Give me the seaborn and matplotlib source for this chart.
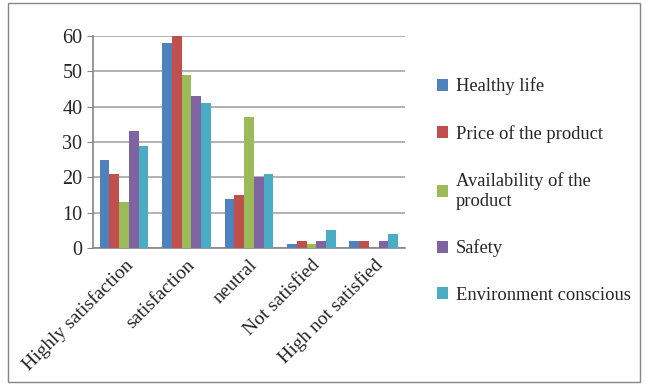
import pandas as pd
import seaborn as sns
import matplotlib.pyplot as plt
from matplotlib.patches import Rectangle

# Chart values
categories = ['Highly satisfaction', 'satisfaction', 'neutral', 'Not satisfied', 'High not satisfied']
healthy = [25, 58, 14, 1, 2]
price = [21, 60, 15, 2, 2]
availability = [13, 49, 37, 1, 0]
safety = [33, 43, 20, 2, 2]
environment = [29, 41, 21, 5, 4]
series_names = ['Healthy life', 'Price of the product', 'Availability of the\nproduct', 'Safety', 'Environment conscious']
colors = ['#4F81BD', '#C0504D', '#9BBB59', '#8064A2', '#4BACC6']

# Build long-form table for seaborn
rows = []
for name, vals in zip(series_names, [healthy, price, availability, safety, environment]):
    for cat, v in zip(categories, vals):
        rows.append({'category': cat, 'series': name, 'value': v})
df = pd.DataFrame(rows)

sns.set_style('white')
plt.rcParams['font.family'] = ['Liberation Serif', 'DejaVu Serif']

fig = plt.figure(figsize=(6.45, 3.85), dpi=100)
ax = fig.add_axes([0.144, 0.356, 0.484, 0.55])

sns.barplot(data=df, x='category', y='value', hue='series', palette=colors,
            width=0.78, saturation=1, edgecolor='none', ax=ax, zorder=3)

ax.set_ylim(0, 60)
ax.set_yticks(range(0, 61, 10))
ax.set_xlim(-0.5, len(categories) - 0.5)
ax.yaxis.grid(True, color='#A6A6A6', linewidth=1.2, zorder=0)
ax.set_xlabel('')
ax.set_ylabel('')
ax.tick_params(axis='y', labelsize=14.5, length=4, color='#868686', left=True)
ax.set_xticks(range(len(categories)))
ax.set_xticklabels(categories, rotation=45, ha='right', rotation_mode='anchor', fontsize=14)
ax.tick_params(axis='x', length=0, pad=6)
ax.set_xticks([i + 0.5 for i in range(-1, len(categories))], minor=True)
ax.tick_params(axis='x', which='minor', length=5, color='#868686')
for side in ['top', 'right']:
    ax.spines[side].set_visible(False)
for side in ['left', 'bottom']:
    ax.spines[side].set_color('#868686')
    ax.spines[side].set_linewidth(1.2)

handles, labels = ax.get_legend_handles_labels()
ax.legend(handles, labels, loc='upper left', bbox_to_anchor=(0.651, 0.842),
          bbox_transform=fig.transFigure, frameon=False, fontsize=13.3,
          handlelength=0.6, handleheight=0.6, handletextpad=0.45, labelspacing=1.6)

# Outer border like the pasted chart
fig.patches.append(Rectangle((0.012, 0.008), 0.98, 0.985, transform=fig.transFigure,
                             fill=False, edgecolor='#868686', linewidth=1))

fig.savefig('out.png', dpi=100)
